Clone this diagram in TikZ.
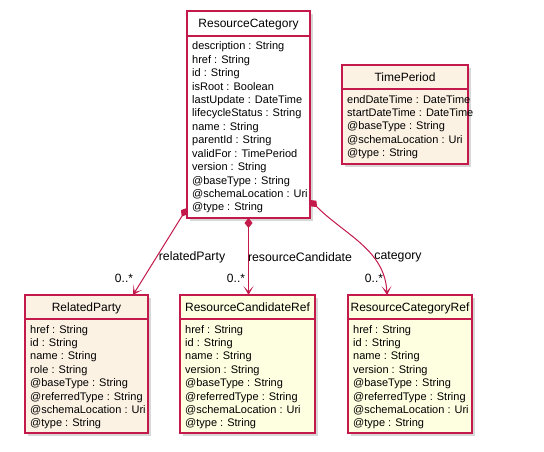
\documentclass[tikz,border=0pt]{standalone}
\usepackage{fontspec}
\setmainfont{Liberation Sans}
\usetikzlibrary{calc,arrows.meta,shadows}
\definecolor{umlred}{RGB}{195,25,75}
\definecolor{peach}{RGB}{252,242,228}
\definecolor{paleyellow}{RGB}{254,254,224}
\tikzset{
  classbox/.style={draw=umlred, line width=1.3pt, inner sep=0pt, outer sep=0pt,
    drop shadow={shadow xshift=3pt, shadow yshift=-3pt, fill=black!30, opacity=.5}},
  sepline/.style={draw=umlred, line width=1.1pt},
  titletext/.style={font=\fontsize{12}{14}\selectfont, inner sep=0pt, anchor=base},
  attrtext/.style={font=\fontsize{11}{13}\selectfont, inner sep=0pt, anchor=base west},
  assoc/.style={draw=umlred, line width=1pt,
    {Diamond[length=10pt,width=8pt,fill=umlred]}-{Stealth[length=9pt,width=10pt,inset=5.5pt]}},
  rolelabel/.style={font=\fontsize{12.3}{14}\selectfont, inner sep=0pt},
  multlabel/.style={font=\fontsize{12}{14}\selectfont, inner sep=0pt},
}
% #1 name, #2 x, #3 y top, #4 width, #5 height, #6 title height, #7 fill, #8 title, #9 attributes
\newcommand{\umlclass}[9]{%
  \node[classbox, fill=#7, minimum width=#4pt, minimum height=#5pt, anchor=north west] (#1) at (#2,#3) {};
  \draw[sepline] ($(#1.north west)+(0,#6)$) -- ($(#1.north east)+(0,#6)$);
  \node[titletext] (#1-title) at ($(#1.north)+(0,{#6/2+4.5})$) {#8};
  \foreach \a [count=\i] in {#9} {
    \node[attrtext] (#1-a\i) at ($(#1.north west)+(5,{#6+14+13.4*(\i-1)})$) {\a};
  }%
}
\begin{document}
\begin{tikzpicture}[x=1pt,y=-1pt]
\fill[white] (0,0) rectangle (544,452);
\useasboundingbox (0,0) rectangle (544,452);

\umlclass{rc}{187}{11}{123}{207}{25}{white}{ResourceCategory}{description : String, href : String, id : String, isRoot : Boolean, lastUpdate : DateTime, lifecycleStatus : String, name : String, parentId : String, validFor : TimePeriod, version : String, @baseType : String, @schemaLocation : Uri, @type : String}

\umlclass{tp}{342}{65}{126}{99}{24}{peach}{TimePeriod}{endDateTime : DateTime, startDateTime : DateTime, @baseType : String, @schemaLocation : Uri, @type : String}

\umlclass{rp}{25}{295}{123}{138}{24}{peach}{RelatedParty}{href : String, id : String, name : String, role : String, @baseType : String, @referredType : String, @schemaLocation : Uri, @type : String}

\umlclass{rcr}{180}{295}{135}{138}{24}{paleyellow}{ResourceCandidateRef}{href : String, id : String, name : String, version : String, @baseType : String, @referredType : String, @schemaLocation : Uri, @type : String}

\umlclass{rcf}{348}{295}{124}{138}{24}{paleyellow}{ResourceCategoryRef}{href : String, id : String, name : String, version : String, @baseType : String, @referredType : String, @schemaLocation : Uri, @type : String}

% connectors
\draw[assoc] ($(rc.south west)+(0,-10)$) -- ($(rp.north east)+(-15,0)$);
\draw[assoc] (rc.south) -- (rc.south |- rcr.north);
\draw[assoc] ($(rc.south east)+(0,-18)$) .. controls (345,235) and (385,250) .. ($(rcf.north west)+(39,0)$);

% labels
\node[rolelabel] (l1) at (192,257) {relatedParty};
\node[rolelabel] (l2) at (300,257) {resourceCandidate};
\node[rolelabel] (l3) at (398,257) {category};
\node[multlabel] (m1) at (124,278) {0..*};
\node[multlabel] (m2) at (236,278) {0..*};
\node[multlabel] (m3) at (374,278) {0..*};
\end{tikzpicture}
\end{document}
